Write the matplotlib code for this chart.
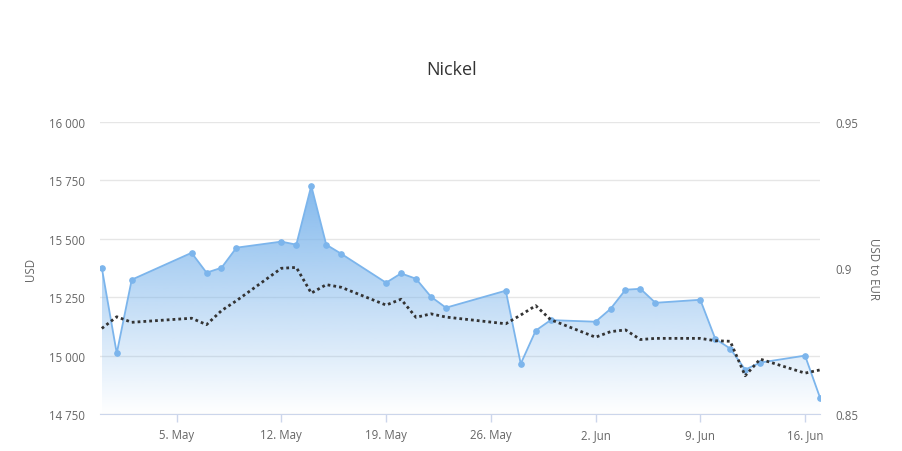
import numpy as np
import matplotlib.pyplot as plt
import matplotlib.dates as mdates
from datetime import date

# Nickel price (USD) and USD->EUR rate per trading day
days = ['2025-04-30', '2025-05-01', '2025-05-02', '2025-05-06', '2025-05-07', '2025-05-08',
        '2025-05-09', '2025-05-12', '2025-05-13', '2025-05-14', '2025-05-15', '2025-05-16',
        '2025-05-19', '2025-05-20', '2025-05-21', '2025-05-22', '2025-05-23', '2025-05-27',
        '2025-05-28', '2025-05-29', '2025-05-30', '2025-06-02', '2025-06-03', '2025-06-04',
        '2025-06-05', '2025-06-06', '2025-06-09', '2025-06-10', '2025-06-11', '2025-06-12',
        '2025-06-13', '2025-06-16', '2025-06-17']
usd = [15376, 15010, 15325, 15440, 15355, 15376, 15462, 15488, 15475, 15727, 15475, 15436,
       15312, 15352, 15329, 15252, 15205, 15278, 14965, 15107, 15152, 15145, 15200, 15282,
       15286, 15226, 15239, 15072, 15030, 14940, 14970, 15000, 14820]
usd_eur = [0.8793, 0.8833, 0.8814, 0.8828, 0.8806, 0.8854, 0.8888, 0.8999, 0.9002, 0.8914,
           0.8943, 0.8934, 0.8873, 0.8893, 0.8831, 0.8843, 0.8832, 0.8809, 0.8839, 0.8871,
           0.8823, 0.8763, 0.8782, 0.8788, 0.8755, 0.8759, 0.8759, 0.8751, 0.8749, 0.8631,
           0.8688, 0.8640, 0.8651]

tick_days = ['2025-05-05', '2025-05-12', '2025-05-19', '2025-05-26', '2025-06-02', '2025-06-09', '2025-06-16']
tick_labels = ['5. May', '12. May', '19. May', '26. May', '2. Jun', '9. Jun', '16. Jun']
usd_ticks = [14750, 15000, 15250, 15500, 15750, 16000]
eur_ticks = [0.85, 0.9, 0.95]

plt.rcParams['font.family'] = ['Open Sans', 'DejaVu Sans']

x = mdates.date2num([date.fromisoformat(d) for d in days])
xt = mdates.date2num([date.fromisoformat(d) for d in tick_days])
usd = np.array(usd)

blue = '#7cb5ec'
W, H = 903, 452
fig = plt.figure(figsize=(W / 100, H / 100), dpi=100)
ax = fig.add_axes([100 / W, 37 / H, 720 / W, 292 / H])
ax.set_xlim(x[0] - 0.12, x[-1])
ax.set_ylim(14750, 16000)

# gradient-filled area
poly = ax.fill_between(x, usd, 14750, color='none', lw=0)
grad = np.zeros((256, 1, 4))
grad[:, 0, :3] = [124 / 255, 181 / 255, 236 / 255]
grad[:, 0, 3] = np.linspace(0.95, 0.0, 256)
img = ax.imshow(grad, extent=[x[0], x[-1], 14750, usd.max()], aspect='auto',
                origin='upper', zorder=1, interpolation='bilinear')
img.set_clip_path(poly.get_paths()[0], transform=ax.transData)
ax.plot(x, usd, color=blue, lw=1.3, marker='o', ms=3.8, zorder=3)

ax.set_yticks(usd_ticks)
ax.set_yticklabels([f'{v:,}'.replace(',', ' ') for v in usd_ticks])
ax.set_xticks(xt)
ax.set_xticklabels(tick_labels)
ax.grid(axis='y', color='#e6e6e6', lw=1)
ax.set_axisbelow(True)
for s in ['top', 'left', 'right']:
    ax.spines[s].set_visible(False)
ax.spines['bottom'].set_color('#ccd6eb')
ax.tick_params(axis='x', colors='#ccd6eb', length=6, width=1, labelcolor='#666666',
               labelsize=8.3, pad=4)
ax.tick_params(axis='y', length=0, labelcolor='#666666', labelsize=8.3, pad=11)
ax.set_ylabel('USD', color='#666666', fontsize=8.3, va='center')
ax.yaxis.set_label_coords(-69 / 720, 0.5)

ax2 = ax.twinx()
ax2.set_ylim(0.85, 0.95)
ax2.plot(x, usd_eur, color='#333333', lw=2, linestyle=(0, (1, 1.1)), zorder=4)
ax2.set_yticks(eur_ticks)
ax2.set_yticklabels(['0.85', '0.9', '0.95'])
ax2.tick_params(axis='y', length=0, labelcolor='#666666', labelsize=8.3, pad=11)
for s in ax2.spines.values():
    s.set_visible(False)
ax2.set_ylabel('USD to EUR', color='#666666', fontsize=8.3, rotation=270, va='center')
ax2.yaxis.set_label_coords(774 / 720, 0.5)

fig.text(0.5, 1 - 70 / H, 'Nickel', ha='center', va='center', fontsize=13, color='#333333')

fig.savefig('out.png', dpi=100)
